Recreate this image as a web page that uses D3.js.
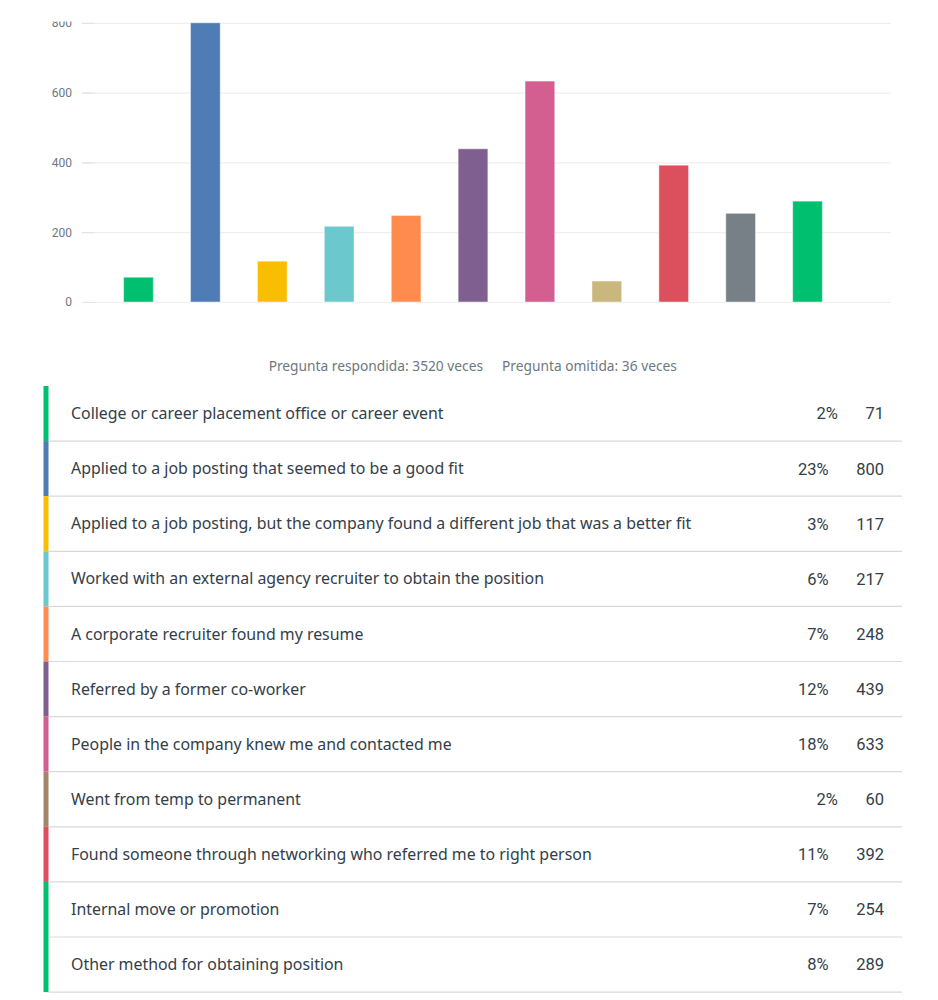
<!DOCTYPE html>
<html>
<head>
<meta charset="utf-8">
<script src="https://cdn.jsdelivr.net/npm/d3@7"></script>
<style>
  body { margin: 0; background: #fff; }
  svg { display: block; }
</style>
</head>
<body>
<script>
var categories = [
    "College or career placement office or career event",
    "Applied to a job posting that seemed to be a good fit",
    "Applied to a job posting, but the company found a different job that was a better fit",
    "Worked with an external agency recruiter to obtain the position",
    "A corporate recruiter found my resume",
    "Referred by a former co-worker",
    "People in the company knew me and contacted me",
    "Went from temp to permanent",
    "Found someone through networking who referred me to right person",
    "Internal move or promotion",
    "Other method for obtaining position"
];
var counts = [71, 800, 117, 217, 248, 439, 633, 60, 392, 254, 289];
var percents = ["2%", "23%", "3%", "6%", "7%", "12%", "18%", "2%", "11%", "7%", "8%"];
var yTicks = [0, 200, 400, 600, 800];
var footerAnswered = "Pregunta respondida: 3520 veces";
var footerSkipped = "Pregunta omitida: 36 veces";

var barColors = ["#00bf6f", "#507cb6", "#f9be00", "#6bc8cd", "#ff8b4f", "#7f5f90", "#d25f90", "#c9b77d", "#dc4f5d", "#768086", "#00bf6f"];
var stripColors = ["#00bf6f", "#507cb6", "#f9be00", "#6bc8cd", "#ff8b4f", "#7f5f90", "#d25f90", "#a6846a", "#dc4f5d", "#00bf6f", "#00bf6f"];

var svgWidth = 938,
    svgHeight = 1000;
var labelFont = "'Noto Sans', sans-serif";
var numFont = "Roboto, sans-serif";

var svg = d3.select("body").append("svg").attr("width", svgWidth).attr("height", svgHeight);

// chart scales
var x = d3.scaleBand()
    .domain(d3.range(categories.length))
    .range([105, 841])
    .paddingInner(0.556)
    .paddingOuter(0.278);

var y = d3.scaleLinear()
    .domain([0, 800])
    .range([302, 22.8]);

// top of the chart is cut off in the screenshot
svg.append("clipPath").attr("id", "chartClip")
    .append("rect")
    .attr("x", 0).attr("y", 21.5)
    .attr("width", svgWidth).attr("height", 340);

var chart = svg.append("g").attr("clip-path", "url(#chartClip)");

// gridlines
var grid = chart.append("g")
    .attr("transform", "translate(82,0)")
    .call(d3.axisLeft(y).tickValues(yTicks).tickSize(-809).tickFormat(""));
grid.select(".domain").remove();
grid.selectAll(".tick line").attr("stroke", "#efefef").attr("stroke-width", 1.2);

// y axis labels
var yAxis = chart.append("g")
    .attr("transform", "translate(82,0)")
    .call(d3.axisLeft(y).tickValues(yTicks).tickSize(-13).tickPadding(10));
yAxis.select(".domain").remove();
yAxis.selectAll(".tick line").attr("stroke", "#e4e4e4").attr("stroke-width", 1.2);
yAxis.selectAll(".tick text")
    .attr("fill", "#6d7880")
    .style("font-family", numFont)
    .style("font-size", "12px");

// bars
chart.selectAll("rect.bar")
    .data(counts)
    .enter()
    .append("rect")
    .attr("class", "bar")
    .attr("x", (d, i) => x(i))
    .attr("y", d => y(d))
    .attr("width", x.bandwidth())
    .attr("height", d => y(0) - y(d))
    .attr("fill", (d, i) => barColors[i])
    .attr("stroke", "#fff")
    .attr("stroke-opacity", 0.45)
    .attr("stroke-width", 1);

// footer
svg.append("text")
    .attr("x", 483).attr("y", 371)
    .attr("text-anchor", "end")
    .attr("fill", "#6d7880")
    .style("font-family", labelFont)
    .style("font-size", "13.75px")
    .text(footerAnswered);
svg.append("text")
    .attr("x", 502).attr("y", 371)
    .attr("fill", "#6d7880")
    .style("font-family", labelFont)
    .style("font-size", "13.75px")
    .text(footerSkipped);

// table
var rowTop = 386,
    rowH = 55.1;

var rows = svg.selectAll("g.row")
    .data(categories)
    .enter()
    .append("g")
    .attr("class", "row")
    .attr("transform", (d, i) => "translate(0," + (rowTop + i * rowH) + ")");

rows.append("rect")
    .attr("x", 43.5).attr("y", 0)
    .attr("width", 5).attr("height", rowH)
    .attr("fill", (d, i) => stripColors[i]);

rows.append("line")
    .attr("x1", 48.5).attr("x2", 902)
    .attr("y1", rowH).attr("y2", rowH)
    .attr("stroke", "#d9d9d9")
    .attr("stroke-width", 1.2);

rows.append("text")
    .attr("x", 71).attr("y", rowH / 2)
    .attr("dy", "0.35em")
    .attr("fill", "#333e48")
    .style("font-family", labelFont)
    .style("font-size", "15.9px")
    .text(d => d);

var countText = rows.append("text")
    .attr("x", 884).attr("y", rowH / 2)
    .attr("dy", "0.36em")
    .attr("text-anchor", "end")
    .attr("fill", "#333e48")
    .style("font-family", numFont)
    .style("font-size", "16.5px")
    .text((d, i) => counts[i]);

// percent sits a fixed gap before the count
var countWidths = [];
countText.each(function() { countWidths.push(this.getComputedTextLength()); });

rows.append("text")
    .attr("x", (d, i) => 884 - countWidths[i] - 27.5)
    .attr("y", rowH / 2)
    .attr("dy", "0.36em")
    .attr("text-anchor", "end")
    .attr("fill", "#333e48")
    .style("font-family", numFont)
    .style("font-size", "16.5px")
    .text((d, i) => percents[i]);
</script>
</body>
</html>
